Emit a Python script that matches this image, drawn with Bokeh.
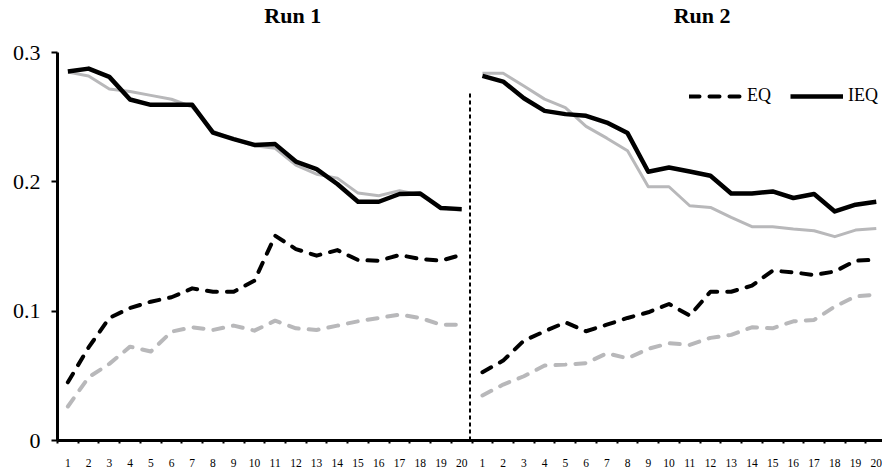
from bokeh.plotting import figure
from bokeh.models import Range1d, FixedTicker, Legend, LegendItem
from bokeh.core.properties import value
from bokeh.embed import file_html
from bokeh.resources import INLINE

# Periods within each run
periods = list(range(1, 21))
period_labels = [str(k) for k in periods]

# Run 1 (dark and light series)
run1_ieq_dark = [0.2854, 0.2877, 0.2813, 0.2638, 0.2597, 0.2597, 0.2597, 0.2382, 0.2332, 0.2287,
                 0.2293, 0.2158, 0.2100, 0.1984, 0.1847, 0.1847, 0.1907, 0.1911, 0.1798, 0.1790]
run1_ieq_light = [0.2850, 0.2820, 0.2720, 0.2700, 0.2670, 0.2640, 0.2580, 0.2394, 0.2330, 0.2280,
                  0.2260, 0.2130, 0.2060, 0.2030, 0.1914, 0.1894, 0.1933, 0.1900, 0.1800, 0.1780]
run1_eq_dark = [0.0450, 0.0720, 0.0948, 0.1025, 0.1074, 0.1108, 0.1177, 0.1151, 0.1151, 0.1236,
                0.1584, 0.1481, 0.1430, 0.1473, 0.1396, 0.1391, 0.1435, 0.1404, 0.1391, 0.1437]
run1_eq_light = [0.0263, 0.0489, 0.0593, 0.0726, 0.0688, 0.0842, 0.0876, 0.0855, 0.0889, 0.0850,
                 0.0927, 0.0868, 0.0855, 0.0889, 0.0922, 0.0948, 0.0974, 0.0948, 0.0896, 0.0896]

# Run 2 (dark and light series)
run2_ieq_dark = [0.2821, 0.2777, 0.2648, 0.2550, 0.2525, 0.2512, 0.2460, 0.2378, 0.2079, 0.2112,
                 0.2081, 0.2048, 0.1911, 0.1911, 0.1927, 0.1876, 0.1907, 0.1772, 0.1824, 0.1847]
run2_ieq_light = [0.2841, 0.2841, 0.2743, 0.2641, 0.2576, 0.2430, 0.2339, 0.2241, 0.1963, 0.1963,
                  0.1816, 0.1803, 0.1726, 0.1654, 0.1654, 0.1636, 0.1623, 0.1577, 0.1628, 0.1641]
run2_eq_dark = [0.0528, 0.0618, 0.0773, 0.0845, 0.0914, 0.0845, 0.0896, 0.0948, 0.0992, 0.1056,
                0.0966, 0.1151, 0.1151, 0.1198, 0.1314, 0.1301, 0.1280, 0.1308, 0.1391, 0.1399]
run2_eq_light = [0.0348, 0.0433, 0.0497, 0.0580, 0.0587, 0.0598, 0.0675, 0.0636, 0.0709, 0.0752,
                 0.0740, 0.0794, 0.0817, 0.0876, 0.0868, 0.0922, 0.0933, 0.1036, 0.1115, 0.1128]

run_titles = ["Run 1", "Run 2"]
y_ticks = [0, 0.1, 0.2, 0.3]
y_tick_labels = ["0", "0.1", "0.2", "0.3"]

SERIF = "Liberation Serif"
DARK = "#000000"
LIGHT = "#B8B8BA"
DASH = "10 10"

n = len(periods)
x_run1 = [k for k in periods]
x_run2 = [k + n for k in periods]

p = figure(width=882, height=470,
           x_range=Range1d(0.5, 40.3), y_range=Range1d(0, 0.3404),
           output_backend="svg", toolbar_location=None,
           min_border_left=57, min_border_right=0, min_border_top=0, min_border_bottom=30)
p.outline_line_color = None
p.grid.visible = False
p.background_fill_color = "white"
p.border_fill_color = "white"

# Light series underneath
for xs, ieq, eq in [(x_run1, run1_ieq_light, run1_eq_light), (x_run2, run2_ieq_light, run2_eq_light)]:
    p.line(xs, ieq, line_color=LIGHT, line_width=3, line_join="round")
    p.line(xs, eq, line_color=LIGHT, line_width=4, line_dash=DASH, line_cap="round",
           line_join="round")

# Dark series on top
eq_renderers = []
ieq_renderers = []
for xs, ieq, eq in [(x_run1, run1_ieq_dark, run1_eq_dark), (x_run2, run2_ieq_dark, run2_eq_dark)]:
    ieq_renderers.append(p.line(xs, ieq, line_color=DARK, line_width=4.5, line_join="round"))
    eq_renderers.append(p.line(xs, eq, line_color=DARK, line_width=4, line_dash=DASH,
                               line_cap="round", line_join="round"))

# Divider between the two runs
divider_x = 20.4
divider_top = 0.27
p.segment(x0=[divider_x], y0=[0], x1=[divider_x], y1=[divider_top],
          line_color="black", line_width=2, line_dash="4 3")

# Run titles
p.text(x=[11.85, 31.6], y=[0.3285, 0.3285], text=run_titles,
       text_font=value(SERIF), text_font_style="bold", text_font_size="22px",
       text_align="center", text_baseline="middle", text_color="black")

# X axis: labels at period centres, small ticks at period boundaries
xa = p.xaxis[0]
centres = x_run1 + x_run2
bounds_ticks = [k + 0.5 for k in range(0, 2 * n + 1)]
xa.ticker = FixedTicker(ticks=centres, minor_ticks=bounds_ticks)
xa.major_label_overrides = {c: lbl for c, lbl in zip(centres, period_labels + period_labels)}
xa.major_tick_out = 0
xa.major_tick_in = 0
xa.minor_tick_out = 3
xa.minor_tick_in = 0
xa.minor_tick_line_width = 2
xa.minor_tick_line_color = "black"
xa.axis_line_width = 3
xa.axis_line_color = "black"
xa.major_label_text_font = SERIF
xa.major_label_text_font_size = "11.5px"
xa.major_label_text_color = "black"
xa.major_label_standoff = 15

# Y axis
ya = p.yaxis[0]
ya.ticker = FixedTicker(ticks=y_ticks)
ya.major_label_overrides = {t: lbl for t, lbl in zip(y_ticks, y_tick_labels)}
ya.bounds = (0, 0.3)
ya.major_tick_out = 6
ya.major_tick_in = 0
ya.major_tick_line_width = 2
ya.minor_tick_line_color = None
ya.axis_line_width = 3
ya.axis_line_color = "black"
ya.major_label_text_font = SERIF
ya.major_label_text_font_size = "22px"
ya.major_label_text_color = "black"
ya.major_label_standoff = 11

legend = Legend(items=[LegendItem(label="EQ", renderers=[eq_renderers[0]]),
                       LegendItem(label="IEQ", renderers=[ieq_renderers[0]])],
                location=(632, 334), orientation="horizontal",
                glyph_width=53, glyph_height=20, label_standoff=5, spacing=19,
                padding=0, margin=0, border_line_alpha=0, background_fill_alpha=0,
                label_text_font=SERIF, label_text_font_size="18px", label_text_color="black")
p.add_layout(legend)

open("out.html", "w").write(file_html(p, INLINE))
